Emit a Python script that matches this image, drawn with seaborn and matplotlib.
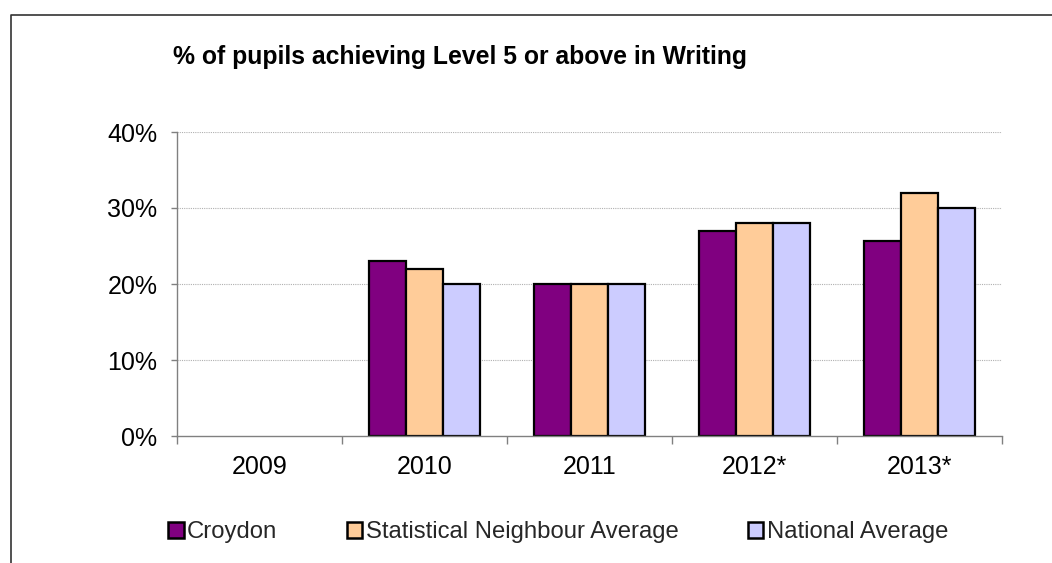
import numpy as np
import pandas as pd
import matplotlib
matplotlib.use("Agg")
import matplotlib.pyplot as plt
from matplotlib.lines import Line2D
from matplotlib.ticker import FixedLocator, FuncFormatter
import seaborn as sns

years = ["2009", "2010", "2011", "2012*", "2013*"]
croydon = [np.nan, 23.0, 20.0, 27.0, 25.6]
stat_neighbour = [np.nan, 22.0, 20.0, 28.0, 32.0]
national = [np.nan, 20.0, 20.0, 28.0, 30.0]
series_names = ["Croydon", "Statistical Neighbour Average", "National Average"]
colors = ["#800080", "#FFCC99", "#CCCCFF"]
y_ticks = [0, 10, 20, 30, 40]
title = "% of pupils achieving Level 5 or above in Writing"

rows = []
for name, vals in zip(series_names, [croydon, stat_neighbour, national]):
    for y, v in zip(years, vals):
        rows.append({"Year": y, "Series": name, "Value": v})
df = pd.DataFrame(rows)

sns.set_theme(style="white")
plt.rcParams["font.family"] = ["Liberation Sans", "DejaVu Sans"]

W, H = 1052, 563
fig = plt.figure(figsize=(W / 100, H / 100), dpi=100)
ax = fig.add_axes([177 / W, 1 - 436 / H, 825 / W, 304 / H])

sns.barplot(data=df, x="Year", y="Value", hue="Series", order=years,
            hue_order=series_names, palette=colors, width=0.67,
            edgecolor="black", linewidth=1.6, ax=ax, legend=False,
            errorbar=None, saturation=1)

ax.set_ylim(0, 40)
ax.set_xlim(-0.5, len(years) - 0.5)
ax.set_yticks(y_ticks)
ax.yaxis.set_major_formatter(FuncFormatter(lambda v, p: f"{v:.0f}%"))
ax.set_xlabel("")
ax.set_ylabel("")
for yv in y_ticks[1:]:
    ax.axhline(yv, color="#B0B0B0", linestyle=(0, (1, 1)), linewidth=0.8, zorder=0)

for s in ["top", "right"]:
    ax.spines[s].set_visible(False)
for s in ["left", "bottom"]:
    ax.spines[s].set_color("#808080")
    ax.spines[s].set_linewidth(1.0)

ax.tick_params(axis="y", which="major", left=True, length=4, width=1,
               color="#808080", labelsize=18, pad=10, labelcolor="black")
ax.tick_params(axis="x", which="major", length=0, labelsize=18, pad=14,
               labelcolor="black")
ax.xaxis.set_minor_locator(FixedLocator(np.arange(-0.5, len(years), 1.0)))
ax.tick_params(axis="x", which="minor", bottom=True, length=6, width=1,
               color="#808080")

fig.text(173 / W, 1 - 57 / H, title, ha="left", va="center",
         fontsize=17.8, fontweight="bold", color="black")

handles = [plt.Rectangle((0, 0), 1, 1, facecolor=c, edgecolor="black", linewidth=1.8)
           for c in colors]
leg = fig.legend(handles, series_names, loc="center left",
                 bbox_to_anchor=(168 / W, 1 - 532 / H), ncol=3, frameon=False,
                 fontsize=17.2, handlelength=0.65, handleheight=0.65,
                 handletextpad=0.15, columnspacing=2.9, borderpad=0,
                 borderaxespad=0)

fig.add_artist(Line2D([10.5 / W, 10.5 / W, 1.0], [0.0, 1 - 15 / H, 1 - 15 / H],
                      color="#333333", linewidth=1.2, transform=fig.transFigure))

fig.savefig("out.png", dpi=100)
